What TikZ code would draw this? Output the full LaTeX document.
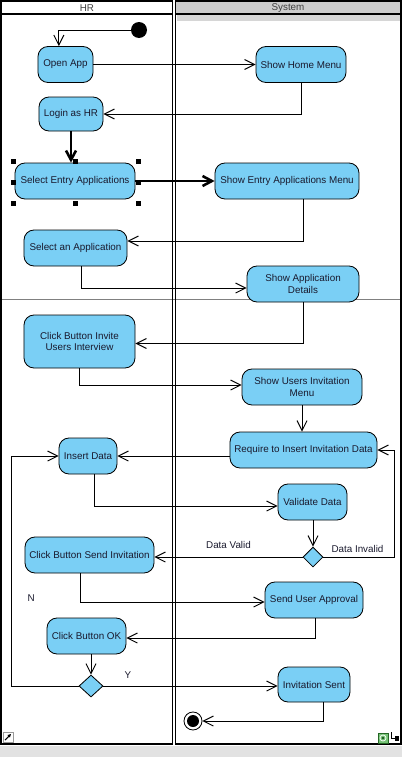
\documentclass[tikz,border=0pt]{standalone}
\usepackage{fontspec}
\setmainfont{Liberation Sans}
\usetikzlibrary{positioning,shapes.geometric,arrows.meta}

\definecolor{actfill}{RGB}{122,207,245}
\definecolor{headgray}{RGB}{204,204,204}
\definecolor{stripgray}{RGB}{214,214,214}
\definecolor{bandgray}{RGB}{226,226,226}
\definecolor{divgray}{RGB}{128,128,128}
\definecolor{txtc}{RGB}{25,25,45}
\definecolor{icongreen}{RGB}{60,170,60}

\tikzset{
  action/.style={draw, rectangle, rounded corners=0.3cm, fill=actfill, minimum height=1.08cm,
    inner sep=1pt, align=center, text=txtc, font=\fontsize{8.4}{10}\selectfont, line width=0.7pt},
  decision/.style={draw, diamond, fill=actfill, inner sep=0pt, line width=0.7pt},
  flow/.style={-{Straight Barb[length=0.3cm, width=0.3cm]}, line width=0.8pt},
  boldflow/.style={-{Straight Barb[length=0.28cm, width=0.3cm]}, line width=2.2pt},
  guard/.style={font=\fontsize{8.4}{10}\selectfont, text=txtc},
  handle/.style={fill=black, minimum size=0.15cm, inner sep=0pt},
  lanehead/.style={font=\fontsize{8.4}{10}\selectfont, text=black!75},
}

\begin{document}
\begin{tikzpicture}[x=0.03cm, y=-0.03cm]
            \useasboundingbox (0,0) rectangle (402,757);

            %% Swimlanes
            % bands and headers
            \fill[bandgray] (0,746) rectangle (402,757);
            \fill[headgray] (175.5,1) rectangle (401,14);
            \fill[stripgray] (176.5,15) rectangle (400,20.5);
            \draw[divgray, line width=1.2pt] (1,299.5) -- (401,299.5);

            % HR lane and System lane
            \draw[line width=1.7pt] (1,1) rectangle (172.5,743.5);
            \draw[line width=1.7pt] (175.5,1) rectangle (401,743.5);
            \draw[line width=1.7pt] (1,14) -- (172.5,14);
            \draw[line width=1.7pt] (175.5,14) -- (401,14);
            \node[lanehead] (hr_head) at (87,8) {HR};
            \node[lanehead] (sys_head) at (288,8) {System};

            %% Actions
            % initial and final nodes
            \node[circle, fill=black, minimum size=0.48cm, inner sep=0pt] (init) at (139,30) {};
            \node[circle, draw, fill=white, line width=0.7pt, minimum size=0.54cm, inner sep=0pt] (fin) at (193,721) {};
            \node[circle, fill=black, minimum size=0.36cm, inner sep=0pt] at (fin) {};

            % HR actions
            \node[action, minimum width=1.65cm] (open) at (65.5,64.5) {Open App};
            \node[action, minimum width=1.92cm, minimum height=1.02cm] (login) at (71,114) {Login as HR};
            \node[action, minimum width=3.6cm] (sea) at (75,181) {Select Entry Applications};
            \node[action, minimum width=3.09cm] (sapp) at (75.5,248) {Select an Application};
            \node[action, minimum width=3.33cm, minimum height=1.59cm] (cbi) at (79.5,341.5) {Click Button Invite\\Users Interview};
            \node[action, minimum width=1.74cm] (ins) at (88,456) {Insert Data};
            \node[action, minimum width=3.87cm] (cbs) at (89.5,555) {Click Button Send Invitation};
            \node[action, minimum width=2.37cm] (cbo) at (86.5,636) {Click Button OK};
            \node[decision, minimum width=0.72cm, minimum height=0.66cm] (dec2) at (91,686) {};

            % System actions
            \node[action, minimum width=2.7cm] (shm) at (301,64.5) {Show Home Menu};
            \node[action, minimum width=4.32cm] (sem) at (287,181) {Show Entry Applications Menu};
            \node[action, minimum width=3.36cm] (sad) at (303,284) {Show Application\\Details};
            \node[action, minimum width=3.6cm] (sui) at (302,387) {Show Users Invitation\\Menu};
            \node[action, minimum width=4.41cm] (req) at (303.5,450) {Require to Insert Invitation Data};
            \node[action, minimum width=2.07cm] (val) at (312.5,502) {Validate Data};
            \node[decision, minimum width=0.6cm, minimum height=0.6cm] (dec1) at (313,557) {};
            \node[action, minimum width=2.94cm] (sua) at (314,600) {Send User Approval};
            \node[action, minimum width=2.16cm, minimum height=1.05cm] (sent) at (314,684.5) {Invitation Sent};

            % selection handles
            \foreach \hx/\hy in {13/161, 75/161, 138/161, 13/182, 138/182, 13/203, 75/203, 138/203}
                \node[handle] at (\hx,\hy) {};

            %% Control flows
            \draw[flow] (init) -| ([xshift=-0.2cm]open.north);
            \draw[flow] (open) -- (shm);
            \draw[flow] (shm.south) |- (login.east);
            \draw[boldflow] (login.south) -- (login.south |- sea.north);
            \draw[boldflow] (sea) -- (sem);
            \draw[flow] ([xshift=0.48cm]sem.south) |- ([yshift=0.21cm]sapp.east);
            \draw[flow] ([xshift=0.18cm]sapp.south) |- ([yshift=-0.12cm]sad.west);
            \draw[flow] (sad.south) |- ([yshift=-0.06cm]cbi.east);
            \draw[flow] (cbi.south) |- ([yshift=0.06cm]sui.west);
            \draw[flow] (sui.south) -- (sui.south |- req.north);
            \draw[flow] (req.west |- ins) -- (ins);
            \draw[flow] ([xshift=0.18cm]ins.south) |- ([yshift=-0.12cm]val.west);
            \draw[flow] (val.south -| dec1) -- (dec1.north);

            % decision on the data
            \draw[flow] (dec1.west) -- (dec1.west -| cbs.east) node[guard, midway, above, yshift=0.12cm] {Data Valid};
            \draw[flow] (dec1.east) -| ([xshift=0.51cm]req.east) node[guard, pos=0.24, above] {Data Invalid} -- (req.east);

            \draw[flow] ([xshift=-0.28cm]cbs.south) |- ([yshift=-0.06cm]sua.west);
            \draw[flow] ([xshift=0.03cm]sua.south) |- ([yshift=-0.06cm]cbo.east);
            \draw[flow] (cbo.south -| dec2) -- (dec2.north);

            % decision on the OK button
            \draw[flow] (dec2.west) -| ([xshift=-1.41cm]ins.west) node[guard, pos=0.69, right=0.35cm] {N} -- (ins.west);
            \draw[flow] (dec2.east) -- (dec2.east -| sent.west) node[guard, pos=0.14, above, yshift=0.08cm] {Y};
            \draw[flow] ([xshift=0.27cm]sent.south) |- (fin.east);

            %% Editor icons
            \draw[black!40, fill=white] (3,732) rectangle (13,742);
            \draw[-{Triangle[length=0.1cm, width=0.1cm]}, line width=0.9pt] (5,740) -- (11,734);
            \draw[icongreen!60!black, fill=icongreen!70] (378,733) rectangle (388,743);
            \draw[white, line width=0.6pt] (383,738) circle (3);
            \fill[icongreen!50!black] (383,738) circle (1.3);
            \draw[line width=0.7pt] (391,732) -- (391,738) -- (396,738);
            \fill[black] (395,736) rectangle (399,741);

        \end{tikzpicture}
\end{document}
